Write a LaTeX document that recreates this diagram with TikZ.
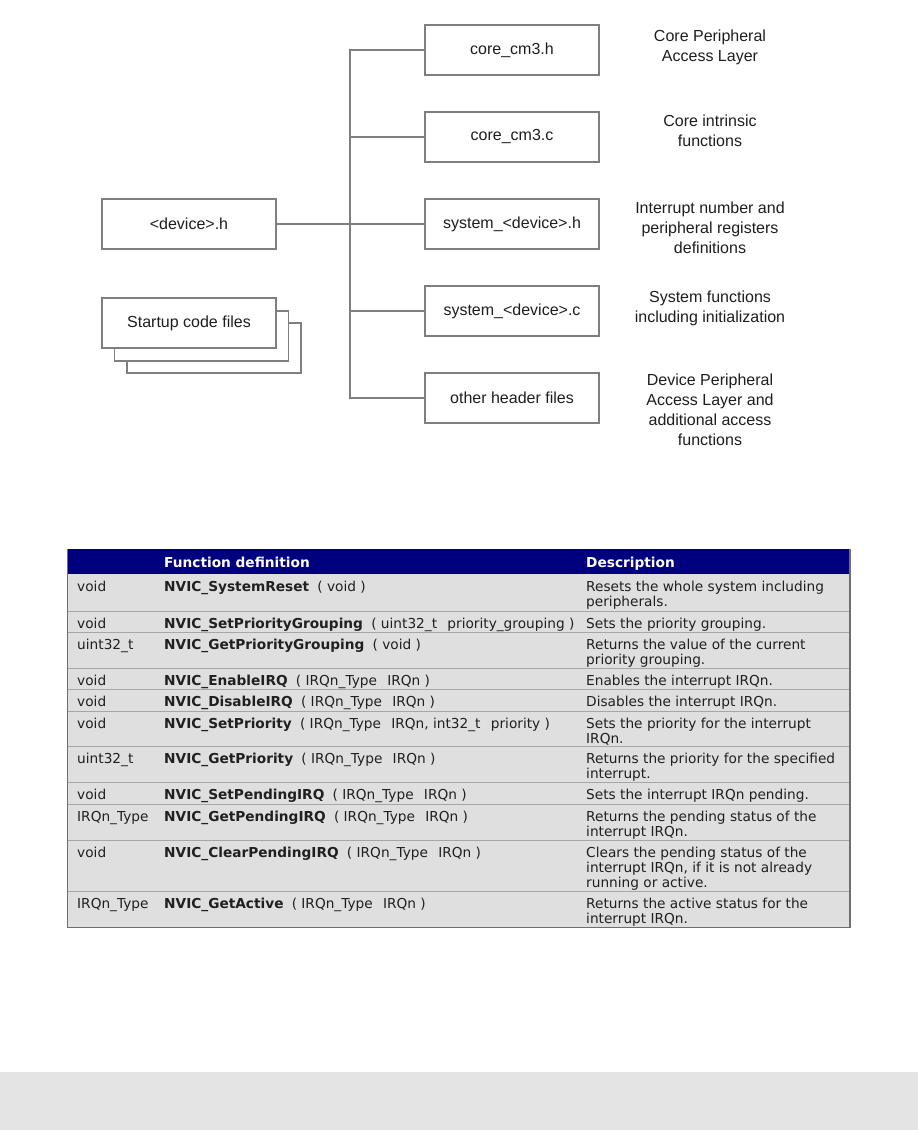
\documentclass[tikz,border=0pt]{standalone}
\usepackage{fontspec}
\setmainfont{Liberation Sans}
\newfontfamily\tabfont{DejaVu Sans}
\definecolor{linegray}{HTML}{7F7F7F}
\definecolor{txt}{HTML}{1E1E1E}
\definecolor{tabtxt}{HTML}{202020}
\definecolor{navy}{HTML}{00007F}
\definecolor{rowbg}{HTML}{DFDFDF}
\definecolor{rowline}{HTML}{A6A6A6}
\definecolor{outerline}{HTML}{6E6E6E}
\definecolor{band}{HTML}{E4E4E4}
\tikzset{
  filebox/.style={draw=linegray, line width=1.5pt, fill=white, minimum width=174pt,
    minimum height=50pt, inner sep=0pt, font=\fontsize{16}{20}\selectfont, text=txt},
  conn/.style={draw=linegray, line width=1.5pt},
  desclabel/.style={anchor=base, inner sep=0pt, font=\fontsize{16}{20}\selectfont, text=txt},
  cell/.style={anchor=base west, inner sep=0pt, font=\tabfont\fontsize{13.7}{15}\selectfont, text=tabtxt},
  headcell/.style={anchor=base west, inner sep=0pt, font=\tabfont\bfseries\fontsize{13.7}{15}\selectfont, text=white},
  sepline/.style={draw=rowline, line width=1pt},
}
\newcommand\trow[5]{%
  \node[cell] (ty#1) at (77,#2+17) {#3};
  \node[cell] (fn#1) at (164,#2+17) {#4};
  \node[cell] (de#1) at (586,#2+17) {\parbox[t]{262pt}{\raggedright #5}};
}
\newcommand\fname[2]{\textbf{#1}\hspace{0.6em}( #2 )}
\newcommand\gap{\hspace{0.75em}}
\begin{document}
\begin{tikzpicture}[x=1pt,y=-1pt]
\useasboundingbox (0,0) rectangle (918,1130);
\fill[white] (0,0) rectangle (918,1130);
\fill[band] (0,1072) rectangle (918,1130);

% ---------- diagram ----------
\coordinate (bus) at (350,0);
\node[filebox] (c1) at (512,50) {core\_cm3.h};
\node[filebox] (c2) at (512,137) {core\_cm3.c};
\node[filebox] (c3) at (512,224) {system\_<device>.h};
\node[filebox] (c4) at (512,311) {system\_<device>.c};
\node[filebox] (c5) at (512,398) {other header files};
\node[filebox] (dev) at (189,224) {<device>.h};
\node[filebox] (s3) at (214,348) {};
\node[filebox] (s2) at (201.5,336) {};
\node[filebox] (s1) at (189,323) {Startup code files};

\draw[conn] (c1.west) -- (c1.west -| bus) -- (c5.west -| bus) -- (c5.west);
\draw[conn] (c2.west -| bus) -- (c2.west);
\draw[conn] (c3.west -| bus) -- (c3.west);
\draw[conn] (c4.west -| bus) -- (c4.west);
\draw[conn] (dev.east) -- (dev.east -| bus);

\node[desclabel] (l1) at (710,41) {\parbox[t]{220pt}{\centering Core Peripheral\\Access Layer}};
\node[desclabel] (l2) at (710,126) {\parbox[t]{220pt}{\centering Core intrinsic\\functions}};
\node[desclabel] (l3) at (710,213) {\parbox[t]{220pt}{\centering Interrupt number and\\peripheral registers\\definitions}};
\node[desclabel] (l4) at (710,302) {\parbox[t]{220pt}{\centering System functions\\including initialization}};
\node[desclabel] (l5) at (710,385) {\parbox[t]{220pt}{\centering Device Peripheral\\Access Layer and\\additional access\\functions}};

% ---------- table ----------
\fill[rowbg] (67,574) rectangle (850,927);
\fill[navy] (67,549) rectangle (850,574);
\node[headcell] (hfn) at (164,567) {Function definition};
\node[headcell] (hde) at (586,567) {Description};
\foreach \y in {611,632,668,689,711,746,782,804,840,891}
  \draw[sepline] (67,\y) -- (850,\y);

\trow{1}{574}{void}{\fname{NVIC\_SystemReset}{void}}{Resets the whole system including\\peripherals.}
\trow{2}{611}{void}{\fname{NVIC\_SetPriorityGrouping}{uint32\_t\gap priority\_grouping}}{Sets the priority grouping.}
\trow{3}{632}{uint32\_t}{\fname{NVIC\_GetPriorityGrouping}{void}}{Returns the value of the current\\priority grouping.}
\trow{4}{668}{void}{\fname{NVIC\_EnableIRQ}{IRQn\_Type\gap IRQn}}{Enables the interrupt IRQn.}
\trow{5}{689}{void}{\fname{NVIC\_DisableIRQ}{IRQn\_Type\gap IRQn}}{Disables the interrupt IRQn.}
\trow{6}{711}{void}{\fname{NVIC\_SetPriority}{IRQn\_Type\gap IRQn, int32\_t\gap priority}}{Sets the priority for the interrupt\\IRQn.}
\trow{7}{746}{uint32\_t}{\fname{NVIC\_GetPriority}{IRQn\_Type\gap IRQn}}{Returns the priority for the specified\\interrupt.}
\trow{8}{782}{void}{\fname{NVIC\_SetPendingIRQ}{IRQn\_Type\gap IRQn}}{Sets the interrupt IRQn pending.}
\trow{9}{804}{IRQn\_Type}{\fname{NVIC\_GetPendingIRQ}{IRQn\_Type\gap IRQn}}{Returns the pending status of the\\interrupt IRQn.}
\trow{10}{840}{void}{\fname{NVIC\_ClearPendingIRQ}{IRQn\_Type\gap IRQn}}{Clears the pending status of the\\interrupt IRQn, if it is not already\\running or active.}
\trow{11}{891}{IRQn\_Type}{\fname{NVIC\_GetActive}{IRQn\_Type\gap IRQn}}{Returns the active status for the\\interrupt IRQn.}

\draw[draw=outerline, line width=1pt] (67,549) -- (67,927) -- (850,927);
\draw[draw=outerline, line width=2pt] (850,549) -- (850,928);
\end{tikzpicture}
\end{document}
